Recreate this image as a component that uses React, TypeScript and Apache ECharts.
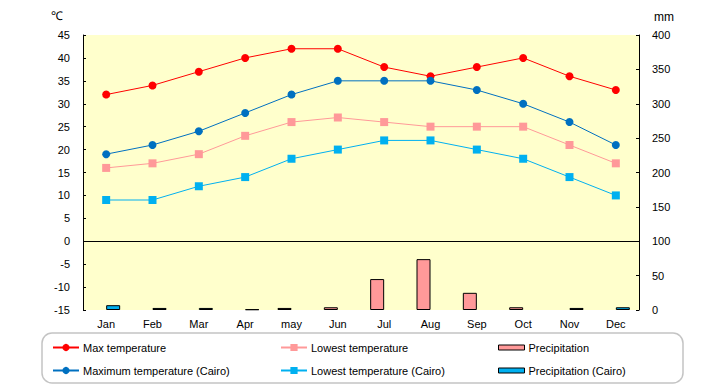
import React, { useEffect, useRef } from "react";
import * as echarts from "echarts";

const months = ["Jan", "Feb", "Mar", "Apr", "may", "Jun", "Jul", "Aug", "Sep", "Oct", "Nov", "Dec"];
const maxTemp = [32, 34, 37, 40, 42, 42, 38, 36, 38, 40, 36, 33];
const lowTemp = [16, 17, 19, 23, 26, 27, 26, 25, 25, 25, 21, 17];
const maxTempCairo = [19, 21, 24, 28, 32, 35, 35, 35, 33, 30, 26, 21];
const lowTempCairo = [9, 9, 12, 14, 18, 20, 22, 22, 20, 18, 14, 10];
const precip = [0, 0, 0, 0, 3, 4, 45, 74, 25, 4, 0, 0];
const precipCairo = [7, 3, 3, 1, 0, 0, 0, 0, 0, 0, 3, 4];

const FONT = "'Liberation Sans', Arial, sans-serif";

export default function App() {
  const ref = useRef<HTMLDivElement>(null);
  useEffect(() => {
    if (!ref.current) return;
    const chart = echarts.init(ref.current, undefined, { renderer: "svg" });
    const nz = (a: number[]) => a.map((v) => (v === 0 ? "-" : v));
    const lineSeries = (name: string, data: number[], color: string, lineColor: string, symbol: string, size: number) => ({
      name,
      type: "line",
      yAxisIndex: 0,
      data,
      symbol,
      symbolSize: size,
      itemStyle: { color },
      lineStyle: { color: lineColor, width: 1 },
      z: 5,
    });
    const legendItem = (name: string, left: number, top: number, bar = false) => ({
      data: bar
        ? [{ name, icon: "rect", itemStyle: { borderColor: "#000", borderWidth: 1 } }]
        : [name],
      left,
      top,
      padding: 0,
      itemWidth: 26,
      itemHeight: bar ? 5 : 9,
      itemGap: 0,
      textStyle: { fontFamily: FONT, fontSize: 11, color: "#000", padding: [0, 0, 0, -1] },
      selectedMode: false,
    });
    chart.setOption({
      animation: false,
      textStyle: { fontFamily: FONT },
      grid: {
        left: 83,
        right: 81,
        top: 35,
        bottom: 75,
        show: true,
        backgroundColor: "#FFFFCC",
        borderWidth: 0,
      },
      graphic: [
        {
          type: "rect",
          shape: { x: 42, y: 333, width: 641, height: 50, r: 10 },
          style: { fill: "#fff", stroke: "#c4c4c4", lineWidth: 1.5 },
          z: -1,
        },
        { type: "text", left: 51, top: 10, style: { text: "℃", fontSize: 12, fontFamily: FONT, fill: "#000" } },
        { type: "text", left: 654, top: 11, style: { text: "mm", fontSize: 12, fontFamily: FONT, fill: "#000" } },
      ],
      legend: [
        legendItem("Max temperature", 52, 342),
        legendItem("Lowest temperature", 280, 342),
        legendItem("Precipitation", 498, 342, true),
        legendItem("Maximum temperature (Cairo)", 52, 365),
        legendItem("Lowest temperature (Cairo)", 280, 365),
        legendItem("Precipitation (Cairo)", 498, 365, true),
      ],
      xAxis: {
        type: "category",
        data: months,
        boundaryGap: true,
        axisLine: { show: false },
        axisTick: { show: false },
        axisLabel: { color: "#000", fontSize: 11, fontFamily: FONT, margin: 8 },
      },
      yAxis: [
        {
          type: "value",
          min: -15,
          max: 45,
          interval: 5,
          axisLine: { show: true, lineStyle: { color: "#000", width: 1 } },
          axisTick: { show: true, inside: true, length: 3, lineStyle: { color: "#000" } },
          splitLine: { show: false },
          axisLabel: { color: "#000", fontSize: 11, fontFamily: FONT, margin: 13 },
        },
        {
          type: "value",
          min: 0,
          max: 400,
          interval: 50,
          position: "right",
          axisLine: { show: true, lineStyle: { color: "#000", width: 1 } },
          axisTick: { show: true, inside: true, length: 3, lineStyle: { color: "#000" } },
          splitLine: { show: false },
          axisLabel: { color: "#000", fontSize: 11, fontFamily: FONT, margin: 13 },
        },
      ],
      series: [
        {
          name: "Precipitation",
          type: "bar",
          yAxisIndex: 1,
          data: nz(precip),
          barWidth: 14,
          barGap: "0%",
          itemStyle: { color: "#FF9999", borderColor: "#000", borderWidth: 1 },
          z: 2,
          markLine: {
            silent: true,
            symbol: "none",
            label: { show: false },
            lineStyle: { color: "#000", type: "solid", width: 1 },
            data: [{ yAxis: 100 }],
          },
        },
        {
          name: "Precipitation (Cairo)",
          type: "bar",
          yAxisIndex: 1,
          data: nz(precipCairo),
          barWidth: 14,
          barGap: "0%",
          itemStyle: { color: "#00B0F0", borderColor: "#000", borderWidth: 1 },
          z: 2,
        },
        lineSeries("Max temperature", maxTemp, "#FF0000", "#FF0000", "circle", 8),
        lineSeries("Lowest temperature", lowTemp, "#FF9999", "#FF9999", "rect", 8),
        lineSeries("Maximum temperature (Cairo)", maxTempCairo, "#0070C0", "#0070C0", "circle", 8),
        lineSeries("Lowest temperature (Cairo)", lowTempCairo, "#00B0F0", "#00B0F0", "rect", 8),
      ],
    });
    return () => chart.dispose();
  }, []);
  return <div ref={ref} style={{ width: 720, height: 385, position: "absolute", left: 0, top: 0 }} />;
}
